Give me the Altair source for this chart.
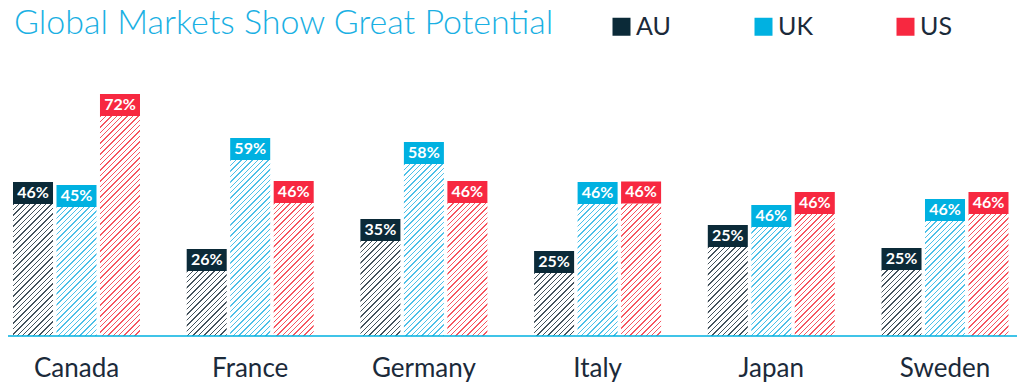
import altair as alt
import pandas as pd

title_text = "Global Markets Show Great Potential"
countries = ["Canada", "France", "Germany", "Italy", "Japan", "Sweden"]
series = ["AU", "UK", "US"]
# bar heights (percent scale)
au_vals = [43.2, 21.3, 31.1, 20.6, 29.1, 21.6]
uk_vals = [42.2, 57.6, 56.3, 43.2, 35.7, 37.6]
us_vals = [72.0, 43.5, 43.5, 43.4, 39.9, 39.9]
# printed labels
au_labels = ["46%", "26%", "35%", "25%", "25%", "25%"]
uk_labels = ["45%", "59%", "58%", "46%", "46%", "46%"]
us_labels = ["72%", "46%", "46%", "46%", "46%", "46%"]

colors = ["#0b2a38", "#00b1e1", "#f72840"]
stripe_colors = ["#45535d", "#4cc0e8", "#f6555f"]

# layout
W, H, D = 1005.5, 275.0, 90.0
PI, PO = 0.2689, 0.0288
OPI = 0.08
step = W / (len(countries) - PI + 2 * PO)
band = step * (1 - PI)
ostep = band / (len(series) - OPI)
BAR_W = ostep * (1 - OPI)
PERIOD, STRIPE = 5.4, 1.4


def hatch(v, col):
    w = BAR_W
    h = v * H / D
    r = h / w
    T = w * (1 + r * r)
    stops = []
    pos = 0.0
    while pos < w + h + PERIOD:
        a = round(min(pos / T, 1), 5)
        b = round(min((pos + STRIPE) / T, 1), 5)
        n = round(min((pos + PERIOD) / T, 1), 5)
        stops += [{"offset": a, "color": col}, {"offset": b, "color": col},
                  {"offset": b, "color": "#ffffff"}, {"offset": n, "color": "#ffffff"}]
        pos += PERIOD
    return {"gradient": "linear", "x1": 0, "y1": 0, "x2": 1, "y2": r, "stops": stops}


rows = []
for i, c in enumerate(countries):
    for s, vals, labs, sc in zip(series, [au_vals, uk_vals, us_vals],
                                 [au_labels, uk_labels, us_labels], stripe_colors):
        rows.append(dict(country=c, series=s, v=vals[i], label=labs[i], grad=hatch(vals[i], sc)))
df = pd.DataFrame(rows)

yscale = alt.Scale(domain=[0, D], nice=False, zero=True)

base = alt.Chart(df).encode(
    x=alt.X("country:N", sort=countries,
            scale=alt.Scale(paddingInner=PI, paddingOuter=PO),
            axis=alt.Axis(title=None, labelAngle=0, domain=False, ticks=False,
                          labelFontSize=26, labelFont="Lato", labelColor="#1b2a3a",
                          labelPadding=19)),
    xOffset=alt.XOffset("series:N", sort=series,
                        scale=alt.Scale(paddingInner=OPI, paddingOuter=0)),
)

bars = base.mark_bar().encode(
    y=alt.Y("v:Q", stack=None, scale=yscale, axis=None),
    fill=alt.Fill("grad:N", scale=None, legend=None),
)

boxes = base.mark_bar(y2Offset=-22).encode(
    y=alt.Y("v:Q", stack=None, scale=yscale, axis=None),
    y2=alt.Y2("v"),
    color=alt.Color("series:N", sort=series,
                    scale=alt.Scale(domain=series, range=colors),
                    legend=alt.Legend(title=None, orient="none", legendX=601, legendY=-47,
                                      direction="horizontal", columns=3,
                                      symbolType="square",
                                      symbolSize=324, symbolStrokeWidth=0,
                                      labelFontSize=25, labelFont="Lato",
                                      labelColor="#1b2a3a", labelOffset=2,
                                      columnPadding=80, gridAlign="all")),
)

labels = base.mark_text(dy=-11, color="white", fontSize=16, fontWeight="bold",
                        font="Lato", baseline="middle").encode(
    y=alt.Y("v:Q", stack=None, scale=yscale, axis=None),
    text="label:N",
)

single = alt.Chart(pd.DataFrame({"t": [title_text]}))

baseline = single.mark_rule(color="#00b0e0", strokeWidth=1.5).encode(
    x=alt.value(-10), x2=alt.value(W + 10), y=alt.value(H))

title = single.mark_text(align="left", baseline="alphabetic", font="Lato",
                         fontSize=34, fontWeight=300, color="#1ab0e3").encode(
    x=alt.value(6), y=alt.value(-27), text="t:N")

chart = alt.layer(bars, boxes, labels, baseline, title).properties(
    width=W, height=H,
    background="white",
    autosize=alt.AutoSizeParams(type="none"),
    padding={"left": 0, "top": 53, "right": 3.5, "bottom": 48},
).configure_view(stroke=None)

chart.save("out.html", embed_options={"renderer": "svg", "actions": False})
